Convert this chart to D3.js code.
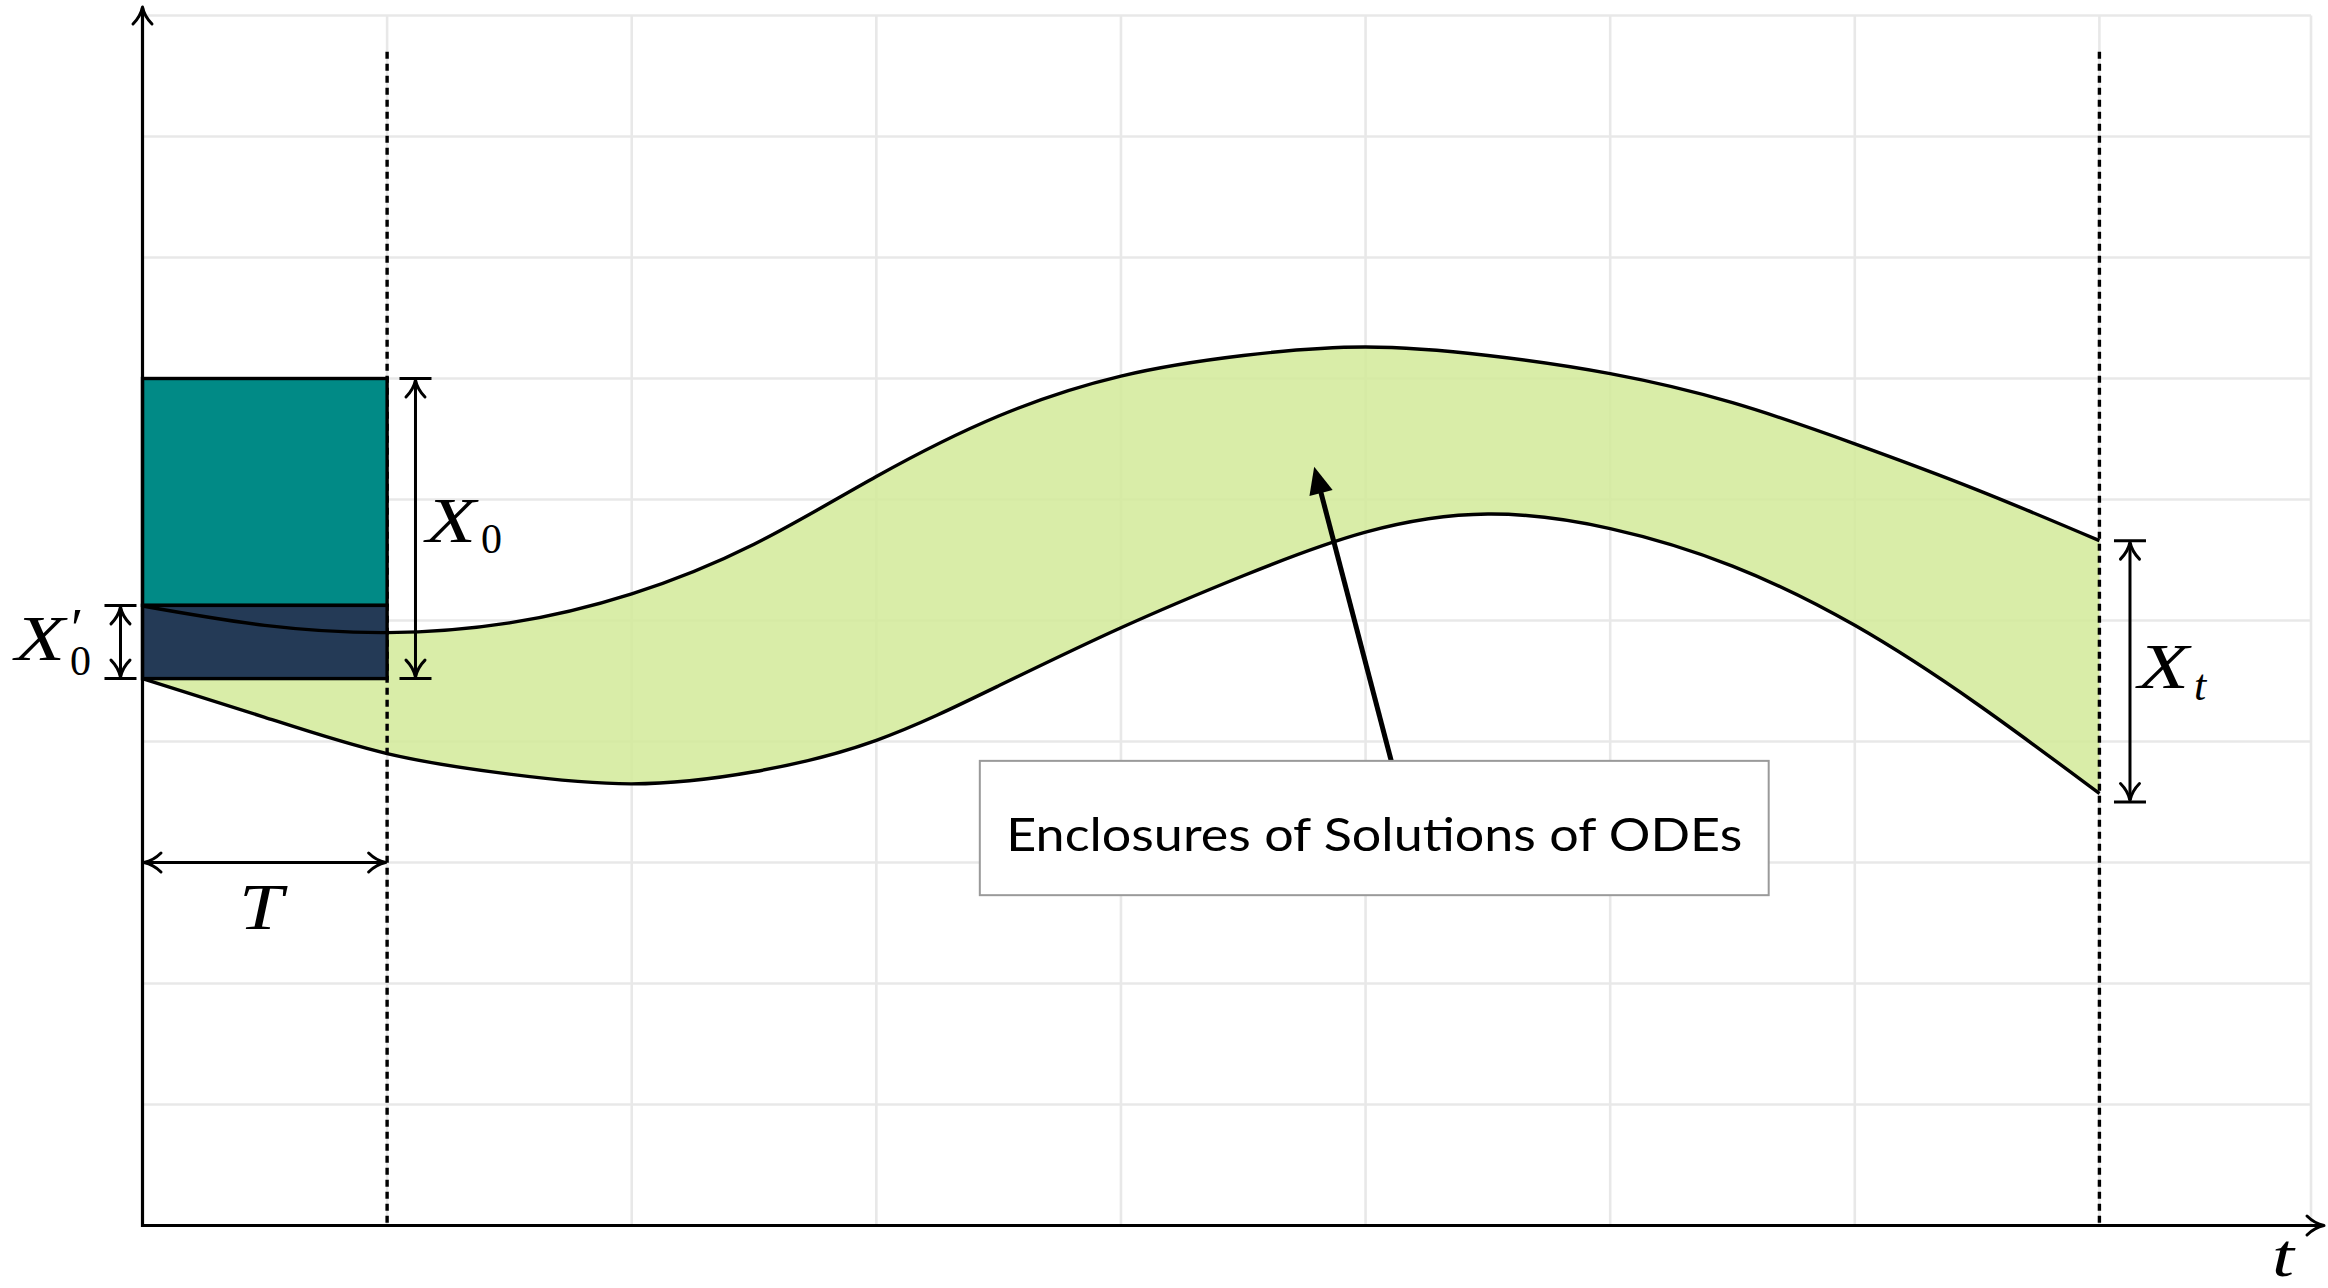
<!DOCTYPE html>
<html>
<head>
<meta charset="utf-8">
<script src="https://cdn.jsdelivr.net/npm/d3@7"></script>
<style>
  html, body { margin: 0; padding: 0; background: #ffffff; }
  svg { display: block; }
  .math { font-family: "Liberation Serif", "DejaVu Serif", serif; }
</style>
</head>
<body>
<svg id="chart" width="2328" height="1288"></svg>
<script>
// ---- grid lines (t and state units) ----
const gridT = [0, 1, 2, 3, 4, 5, 6, 7, 8, 8.865];
const gridX = [0, 1, 2, 3, 4, 5, 6, 7, 8, 9, 10];

// ---- sample times of the enclosure boundaries ----
const tSamples = [0, 0.5, 1, 1.5, 2, 2.5, 3, 3.5, 4, 4.5, 5, 5.5, 6, 6.5, 7, 7.5, 8];
// upper boundary of the solution enclosure
const upperBound = [5.12, 4.96, 4.90, 4.98, 5.22, 5.63, 6.19, 6.69, 7.02, 7.19, 7.26, 7.19, 7.04, 6.80, 6.46, 6.08, 5.66];
// lower boundary of the solution enclosure
const lowerBound = [4.52, 4.20, 3.90, 3.73, 3.65, 3.75, 4.01, 4.46, 4.94, 5.37, 5.73, 5.88, 5.76, 5.45, 4.96, 4.31, 3.57];

// initial sets over t in [0, T]
const initialSets = [
  { name: "X0", t0: 0, t1: 1, lo: 5.125, hi: 7.0, color: "#018a86" },
  { name: "X0p", t0: 0, t1: 1, lo: 4.52, hi: 5.125, color: "#243a56" }
];
const markTimes = [1, 8];
const boxLabel = "Enclosures of Solutions of ODEs";

const svg = d3.select("#chart");

const x = d3.scaleLinear().domain([0, 8.865]).range([142.5, 2311]);
const y = d3.scaleLinear().domain([0, 10]).range([1225.5, 15.5]);

const band = tSamples.map((t, i) => ({ t, hi: upperBound[i], lo: lowerBound[i] }));
const curve = d3.curveNatural;

// grid
const grid = svg.append("g").attr("stroke", "#e8e8e8").attr("stroke-width", 2.6);
grid.selectAll("line.v").data(gridT.slice(1)).join("line")
  .attr("x1", d => x(d)).attr("x2", d => x(d))
  .attr("y1", y(10)).attr("y2", y(0));
grid.selectAll("line.h").data(gridX.slice(1)).join("line")
  .attr("x1", x(0)).attr("x2", x(8.865))
  .attr("y1", d => y(d)).attr("y2", d => y(d));

// enclosure band
svg.append("path").datum(band)
  .attr("d", d3.area().curve(curve).x(d => x(d.t)).y0(d => y(d.lo)).y1(d => y(d.hi)))
  .attr("fill", "rgb(210,234,153)").attr("fill-opacity", 0.85);

// dashed markers at t = T and at the final time
svg.append("g").selectAll("line").data(markTimes).join("line")
  .attr("x1", d => x(d)).attr("x2", d => x(d))
  .attr("y1", y(9.7)).attr("y2", y(0))
  .attr("stroke", "#000").attr("stroke-width", 3.4)
  .attr("stroke-dasharray", "7,5");

// initial-set rectangles
svg.append("g").selectAll("rect").data(initialSets).join("rect")
  .attr("x", d => x(d.t0)).attr("width", d => x(d.t1) - x(d.t0))
  .attr("y", d => y(d.hi)).attr("height", d => y(d.lo) - y(d.hi))
  .attr("fill", d => d.color).attr("stroke", "#000").attr("stroke-width", 3.4);

// boundary curves
const lineGen = key => d3.line().curve(curve).x(d => x(d.t)).y(d => y(d[key]));
["hi", "lo"].forEach(k => {
  svg.append("path").datum(band).attr("d", lineGen(k))
    .attr("fill", "none").attr("stroke", "#000").attr("stroke-width", 3.4);
});

// open "to"-style arrow head
function openHead(g, px, py, dx, dy) {
  const len = Math.hypot(dx, dy); dx /= len; dy /= len;
  const nx = -dy, ny = dx, L = 17, Wd = 9.5;
  const b1 = [px - L * dx + Wd * nx, py - L * dy + Wd * ny];
  const b2 = [px - L * dx - Wd * nx, py - L * dy - Wd * ny];
  const c1 = [px - 0.55 * L * dx + 0.2 * Wd * nx, py - 0.55 * L * dy + 0.2 * Wd * ny];
  const c2 = [px - 0.55 * L * dx - 0.2 * Wd * nx, py - 0.55 * L * dy - 0.2 * Wd * ny];
  g.append("path")
    .attr("d", `M${b1}Q${c1} ${px},${py}Q${c2} ${b2}`)
    .attr("fill", "none").attr("stroke", "#000").attr("stroke-width", 3)
    .attr("stroke-linecap", "round").attr("stroke-linejoin", "round");
}

// axes
const axes = svg.append("g");
axes.append("line").attr("x1", x(0)).attr("x2", x(0)).attr("y1", y(0) + 1.5).attr("y2", 8)
  .attr("stroke", "#000").attr("stroke-width", 3.2);
openHead(axes, x(0), 7, 0, -1);
axes.append("line").attr("x1", x(0) - 1.5).attr("x2", 2323).attr("y1", y(0)).attr("y2", y(0))
  .attr("stroke", "#000").attr("stroke-width", 3.2);
openHead(axes, 2324, y(0), 1, 0);

// dimension arrows
function vDim(g, px, yTop, yBot) {
  g.append("line").attr("x1", px).attr("x2", px).attr("y1", yTop + 2).attr("y2", yBot - 2)
    .attr("stroke", "#000").attr("stroke-width", 3);
  openHead(g, px, yTop + 1.5, 0, -1);
  openHead(g, px, yBot - 1.5, 0, 1);
  [yTop, yBot].forEach(v => g.append("line").attr("x1", px - 16).attr("x2", px + 16)
    .attr("y1", v).attr("y2", v).attr("stroke", "#000").attr("stroke-width", 3));
}
const dims = svg.append("g");
vDim(dims, x(1.116), y(initialSets[0].hi), y(initialSets[1].lo));
vDim(dims, x(-0.09), y(initialSets[1].hi), y(initialSets[1].lo));
vDim(dims, x(8.125), y(upperBound[upperBound.length - 1]), y(3.50));

// horizontal T dimension
dims.append("line").attr("x1", x(0) + 2).attr("x2", x(1) - 2).attr("y1", y(3)).attr("y2", y(3))
  .attr("stroke", "#000").attr("stroke-width", 3);
openHead(dims, x(0) + 1.5, y(3), -1, 0);
openHead(dims, x(1) - 1.5, y(3), 1, 0);

// math labels: each symbol is one text element built from positioned pieces
const labels = svg.append("g").attr("class", "math").attr("fill", "#000");
function symbol(parts) {
  const t = labels.append("text");
  parts.forEach(p => {
    const s = t.append("tspan").attr("x", p.x).attr("y", p.y).attr("font-size", p.size).text(p.txt);
    if (p.italic) s.attr("font-style", "italic");
    if (p.w) s.attr("textLength", p.w).attr("lengthAdjust", "spacingAndGlyphs");
  });
  return t;
}
symbol([{ x: 426, y: 542, txt: "X", size: 64, italic: true, w: 50 },
        { x: 481, y: 553, txt: "0", size: 42 }]);
symbol([{ x: 15, y: 660, txt: "X", size: 64, italic: true, w: 50 },
        { x: 71, y: 648, txt: "\u2032", size: 56 },
        { x: 70, y: 675, txt: "0", size: 42 }]);
symbol([{ x: 2138, y: 688, txt: "X", size: 64, italic: true, w: 51 },
        { x: 2194, y: 700, txt: "t", size: 44, italic: true }]);
symbol([{ x: 239, y: 929, txt: "T", size: 66, italic: true, w: 44 }]);
symbol([{ x: 2272, y: 1276, txt: "t", size: 62, italic: true, w: 22 }]);

// annotation box and pointer
const ann = svg.append("g");
const tip = [x(4.79), y(6.27)], tail = [x(5.105), y(3.84)];
{
  const dx = tip[0] - tail[0], dy = tip[1] - tail[1], len = Math.hypot(dx, dy);
  const ux = dx / len, uy = dy / len, nx = -uy, ny = ux, L = 27, Wd = 12;
  ann.append("line").attr("x1", tail[0]).attr("y1", tail[1])
    .attr("x2", tip[0] - ux * 20).attr("y2", tip[1] - uy * 20)
    .attr("stroke", "#000").attr("stroke-width", 5);
  const base = [tip[0] - ux * L, tip[1] - uy * L];
  ann.append("path")
    .attr("d", `M${tip}L${base[0] + nx * Wd},${base[1] + ny * Wd}L${base[0] - nx * Wd},${base[1] - ny * Wd}Z`)
    .attr("fill", "#000");
}
ann.append("rect")
  .attr("x", x(3.423)).attr("y", y(3.84))
  .attr("width", x(6.648) - x(3.423)).attr("height", y(2.73) - y(3.84))
  .attr("fill", "#fff").attr("stroke", "#9a9a9a").attr("stroke-width", 2);
ann.append("text")
  .attr("x", (x(3.423) + x(6.648)) / 2).attr("y", 851)
  .attr("text-anchor", "middle")
  .attr("font-family", "Lato, 'Open Sans', sans-serif").attr("font-size", 46)
  .attr("textLength", 736).attr("lengthAdjust", "spacingAndGlyphs")
  .attr("fill", "#000")
  .text(boxLabel);
</script>
</body>
</html>
